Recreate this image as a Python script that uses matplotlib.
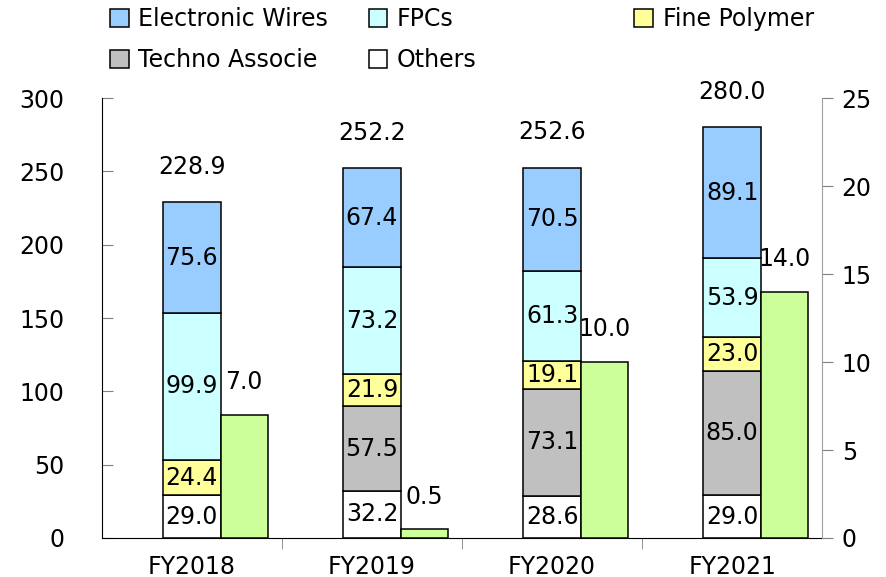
import numpy as np
import matplotlib
matplotlib.use("Agg")
import matplotlib.pyplot as plt

## data
years = ["FY2018", "FY2019", "FY2020", "FY2021"]
others = [29.0, 32.2, 28.6, 29.0]
techno = [0.0, 57.5, 73.1, 85.0]
fine_polymer = [24.4, 21.9, 19.1, 23.0]
fpcs = [99.9, 73.2, 61.3, 53.9]
wires = [75.6, 67.4, 70.5, 89.1]
totals = [228.9, 252.2, 252.6, 280.0]
right_vals = [7.0, 0.5, 10.0, 14.0]

segments = [
    ("Others", others, "#FFFFFF"),
    ("Techno Associe", techno, "#C0C0C0"),
    ("Fine Polymer", fine_polymer, "#FFFF99"),
    ("FPCs", fpcs, "#CCFFFF"),
    ("Electronic Wires", wires, "#99CCFF"),
]

plt.rcParams['font.family'] = ['DejaVu Sans']
fs = 17

fig = plt.figure(figsize=(8.86, 5.77), dpi=100)
ax = fig.add_axes([0.115, 0.0676, 0.813, 0.7624])
ax2 = ax.twinx()

x = np.arange(len(years))
w1 = 0.32
w2 = 0.26

bottom = np.zeros(len(years))
handles = {}
for name, vals, col in segments:
    vals = np.array(vals)
    b = ax.bar(x, vals, w1, bottom=bottom, color=col, edgecolor='black', linewidth=1.1, label=name)
    handles[name] = b
    for xi, bo, v in zip(x, bottom, vals):
        if v > 0:
            ax.text(xi, bo + v / 2, "%.1f" % v, ha='center', va='center', fontsize=fs)
    bottom = bottom + vals

for xi, t in zip(x, totals):
    ax.text(xi, t + 24, "%.1f" % t, ha='center', va='center', fontsize=fs)

ax2.bar(x + w1 / 2 + w2 / 2, right_vals, w2, color="#CCFF99", edgecolor='black', linewidth=1.1)
for xi, v in zip(x, right_vals):
    ax2.text(xi + w1 / 2 + w2 / 2, v + 1.85, "%.1f" % v, ha='center', va='center', fontsize=fs)

## axes format
ax.set_xlim(-0.5, 3.5)
ax.set_ylim(0, 300)
ax2.set_ylim(0, 25)
ax.set_yticks(np.arange(0, 301, 50))
ax2.set_yticks(np.arange(0, 26, 5))

ax.set_xticks(x)
ax.set_xticklabels(years, fontsize=fs)
ax.set_xticks([0.5, 1.5, 2.5], minor=True)
ax.tick_params(axis='x', which='major', length=0, pad=12)
ax.tick_params(axis='x', which='minor', length=8, color='#808080', direction='out')
ax.tick_params(axis='y', direction='in', length=8, color='#808080', labelsize=fs, pad=27)
ax2.tick_params(axis='y', direction='out', length=8, color='#808080', labelsize=fs, pad=6)

for a in (ax, ax2):
    a.spines['top'].set_visible(False)
ax.spines['right'].set_visible(False)
ax2.spines['left'].set_visible(False)
ax2.spines['bottom'].set_visible(False)
ax2.spines['right'].set_color('#A0A0A0')
ax.spines['left'].set_color('black')
ax.spines['bottom'].set_color('black')

## legend, three columns placed by hand
cols = [
    (["Electronic Wires", "Techno Associe"], 0.108),
    (["FPCs", "Others"], 0.400),
    (["Fine Polymer"], 0.700),
]
for names, xpos in cols:
    fig.legend([handles[n] for n in names], names, loc='upper left',
               bbox_to_anchor=(xpos, 1.012), frameon=False, fontsize=fs,
               handlelength=0.8, handleheight=0.8, handletextpad=0.4,
               labelspacing=0.7, borderaxespad=0.2)

fig.savefig("out.png", dpi=100)
